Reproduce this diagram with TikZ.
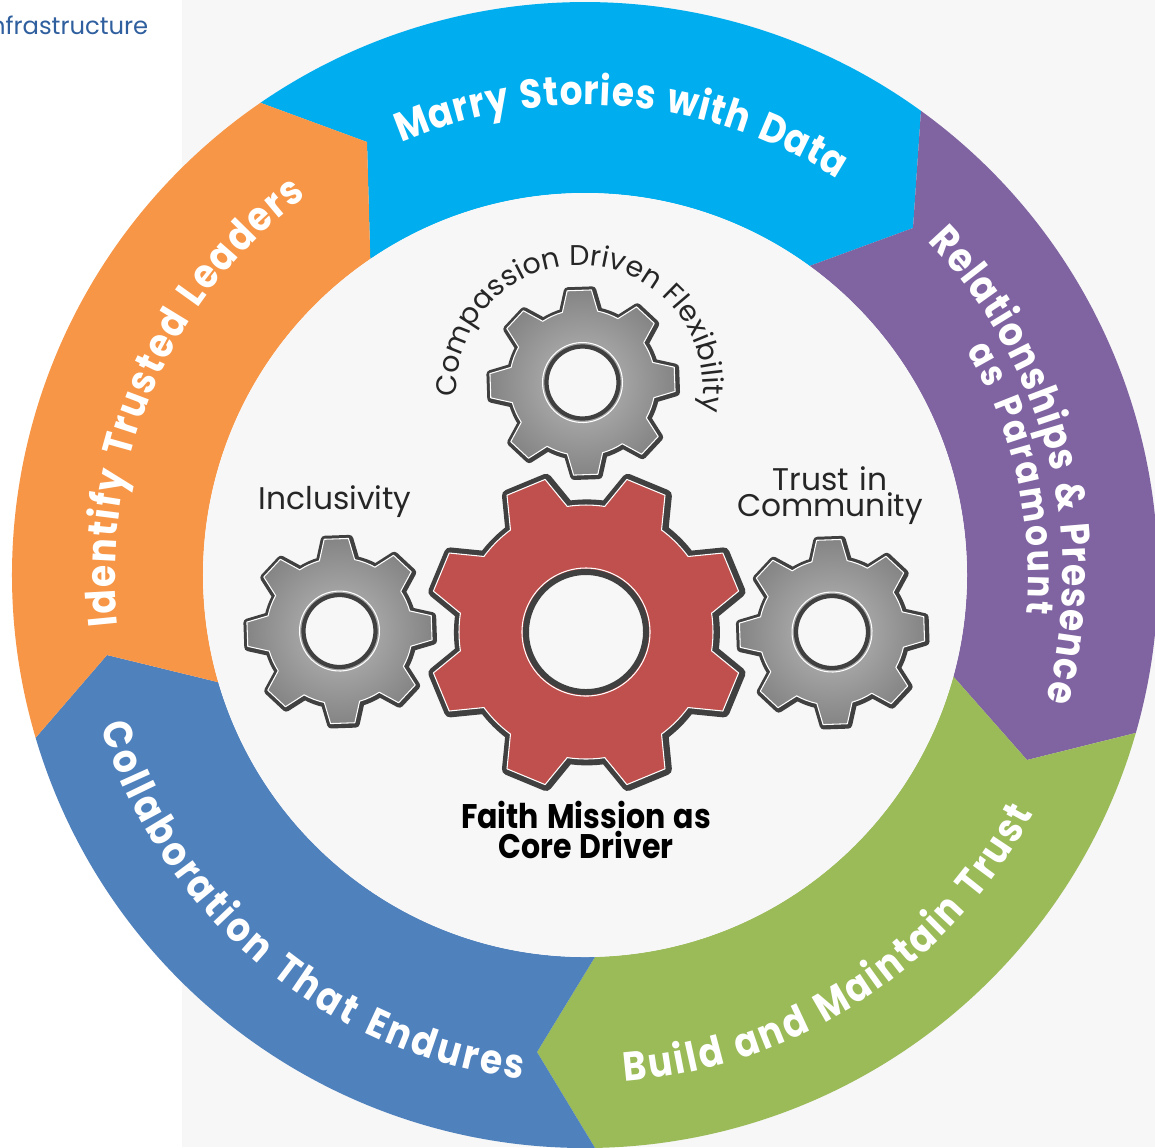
\documentclass[tikz,border=0pt]{standalone}
\usepackage{fontspec}
\setmainfont{Poppins}
\newfontfamily\ringfam[FakeStretch=.88,WordSpace=1.3]{Poppins Bold}
\usetikzlibrary{decorations.text}
\definecolor{skyseg}{HTML}{00AEEF}
\definecolor{purpleseg}{HTML}{8064A2}
\definecolor{greenseg}{HTML}{9BBB59}
\definecolor{blueseg}{HTML}{4F81BD}
\definecolor{orangeseg}{HTML}{F79646}
\definecolor{gearred}{HTML}{C0504D}
\definecolor{geardark}{HTML}{404040}
\definecolor{backgray}{HTML}{F7F7F7}
\definecolor{headblue}{HTML}{2F5F9E}
\newcommand{\ringfont}{\ringfam\fontsize{11.6}{13}\selectfont\color{white}}
\newcommand{\ringsmallfont}{\ringfam\fontsize{10.6}{13}\selectfont\color{white}}
\newcommand{\innerfont}{\fontsize{8.9}{8.9}\selectfont\color{black!85}}
\newcommand{\arcfont}{\fontsize{8.1}{8.1}\selectfont\color{black!85}}
% gear at x,y: rotation, root radius, tip radius, hole radius, outline width, fill style
\newcommand{\gearpath}[2]{(-14:#1) \foreach \a in {0,45,...,315} {
    -- ({\a-7.5}:#2) -- ({\a+7.5}:#2) -- ({\a+14}:#1) arc[start angle=\a+14,end angle=\a+31,radius=#1]} -- cycle}
\newcommand{\gearat}[8]{
  \begin{scope}[shift={(#1,#2)},rotate=#3]
    \draw[geardark,line width=#7,line join=round,shift={(.7,-.7)}] \gearpath{#4}{#5};
    \path[#8,draw=white,line width=.3pt,line join=round] \gearpath{#4}{#5};
    \draw[white,line width=.3pt] (0,0) circle[radius=#6+2];
    \draw[geardark,fill=backgray,line width=.5*#7] (0,0) circle[radius=#6-2];
  \end{scope}}
\tikzset{
  gearshade/.style={inner color=black!27,outer color=black!48,shade},
  redfill/.style={fill=gearred},
  ringtext/.style={decorate,decoration={text along path,text align={fit to path},text={|\ringfont|#1}}},
  ringsmall/.style={decorate,decoration={text along path,text align={fit to path},text={|\ringsmallfont|#1}}},
  innertext/.style={decorate,decoration={text along path,text align={fit to path},text={|\arcfont|#1}}}
}
\begin{document}
\begin{tikzpicture}[x=.01cm,y=.01cm]
\clip (-585,-572) rectangle (570,575);
\fill[white] (-585,-572) rectangle (570,575);
\fill[backgray] (-403,-572) rectangle (570,575);
\node[headblue,anchor=base east,inner sep=0,font=\fontsize{6.9}{7}\selectfont] (head) at (-436,541) {Infrastructure};
% notches
\coordinate (n1) at (-218,433);
\coordinate (n2) at (328,347);
\coordinate (n3) at (442,-185);
\coordinate (n4) at (-48,-477);
\coordinate (n5) at (-478,-80);
% ring
\fill[skyseg] (124.5:573) arc[start angle=124.5,end angle=54.1,radius=573] -- (n2) -- (54:382) arc[start angle=54,end angle=124.2,radius=382] -- (n1) -- cycle;
\fill[purpleseg] (54.1:573) arc[start angle=54.1,end angle=-16,radius=573] -- (n3) -- (-15.4:382) arc[start angle=-15.4,end angle=54,radius=382] -- (n2) -- cycle;
\fill[greenseg] (-16:573) arc[start angle=-16,end angle=-89,radius=573] -- (n4) -- (-88.5:382) arc[start angle=-88.5,end angle=-15.4,radius=382] -- (n3) -- cycle;
\fill[blueseg] (-89:573) arc[start angle=-89,end angle=-163.5,radius=573] -- (n5) -- (-163.7:382) arc[start angle=-163.7,end angle=-88.5,radius=382] -- (n4) -- cycle;
\fill[orangeseg] (196.5:573) arc[start angle=196.5,end angle=124.5,radius=573] -- (n1) -- (124.2:382) arc[start angle=124.2,end angle=196.3,radius=382] -- (n5) -- cycle;
\fill[backgray] (0,0) circle[radius=382];
% ring labels
\path[ringtext={Marry Stories with Data}] (113:470) arc[start angle=113,end angle=57.5,radius=470];
\path[ringtext={Relationships {\&} Presence}] (44.2:478) arc[start angle=44.2,end angle=-15.2,radius=478];
\path[ringsmall={as Paramount}] (30.5:443) arc[start angle=30.5,end angle=-5,radius=443];
\path[ringtext={Build and Maintain Trust}] (-85.5:508) arc[start angle=-85.5,end angle=-28,radius=508];
\path[ringtext={Collaboration That Endures}] (197.4:508) arc[start angle=197.4,end angle=262.9,radius=508];
\path[ringtext={Identify Trusted Leaders}] (186.2:470) arc[start angle=186.2,end angle=126.4,radius=470];
% gears
\gearat{-2.5}{192.5}{2}{73}{93}{38}{2.4pt}{gearshade}
\gearat{-245.5}{-56}{2}{73}{93}{38}{2.4pt}{gearshade}
\gearat{247}{-57}{2}{73}{93}{38}{2.4pt}{gearshade}
\gearat{1}{-57}{22.5}{127}{158}{62}{3.4pt}{redfill}
% gear labels
\path[innertext={Compassion Driven Flexibility}] (-5,187) ++(184:123) arc[start angle=184,end angle=-11,radius=123];
\node[font=\innerfont,anchor=base] (incl) at (-250,66) {Inclusivity};
\node[font=\innerfont,anchor=base,align=center,text width=200] (trust1) at (245,85) {Trust in};
\node[font=\innerfont,anchor=base,align=center,text width=200] (trust2) at (245,59) {Community};
\node[font=\ringfam\fontsize{9.7}{10}\selectfont,anchor=base,text=black] (faith1) at (1,-253) {Faith Mission as};
\node[font=\ringfam\fontsize{9.7}{10}\selectfont,anchor=base,text=black] (faith2) at (1,-283) {Core Driver};
\end{tikzpicture}
\end{document}
